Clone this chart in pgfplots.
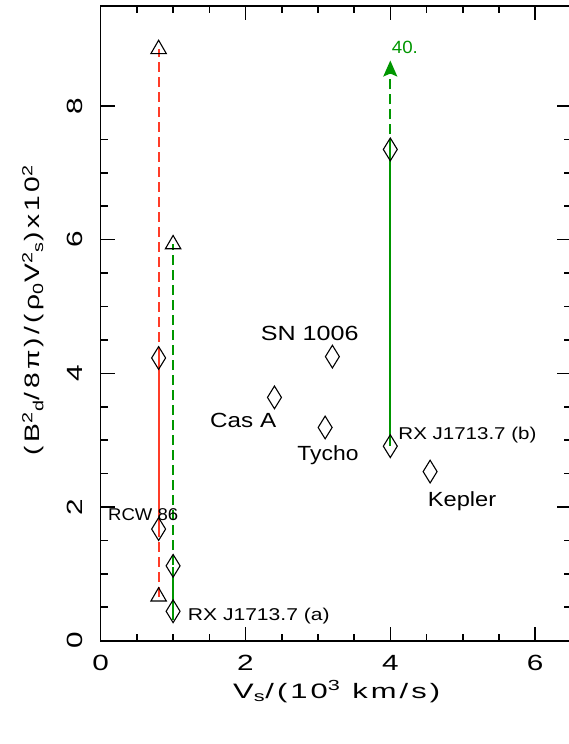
\documentclass[border=0pt]{standalone}
\usepackage{pgfplots}
\pgfplotsset{compat=1.18}
\usepackage{fontspec}
\setmainfont{Liberation Sans}
\usetikzlibrary{arrows.meta}
\definecolor{pgred}{RGB}{255,60,40}
\definecolor{pggreen}{RGB}{0,150,0}
\newcommand{\fs}[1]{\fontsize{#1}{#1}\selectfont}
\begin{document}
\begin{tikzpicture}
\begin{axis}[
  at={(0,0)}, anchor=south west,
  scale only axis, width=470.6bp, height=635bp,
  xmin=0, xmax=6.5, ymin=0, ymax=9.5,
  xtick={0,2,4,6}, ytick={0,2,4,6,8},
  minor x tick num=3, minor y tick num=3,
  tick align=inside,
  major tick length=14bp, minor tick length=7bp,
  axis line style={line width=1.6bp},
  every tick/.style={line width=1.6bp, black},
  /pgf/number format/assume math mode=true,
  xticklabel style={anchor=north, inner sep=0pt, yshift=-14.3bp, font=\fs{22bp}},
  yticklabel style={xshift=-17.7bp, rotate=90, anchor=south, inner sep=0pt, font=\fs{22bp}},
  xticklabel={\scalebox{1.35}[1]{\pgfmathprintnumber{\tick}}},
  yticklabel={\scalebox{1.35}[1]{\pgfmathprintnumber{\tick}}},
  xlabel={\resizebox{207bp}{\height}{\addfontfeatures{LetterSpace=10}V\textsubscript{s}/(10\textsuperscript{3} km/s)}},
  xlabel style={at={(axis description cs:0.5015,-0.09024)}, anchor=base, inner sep=0pt, font=\fs{20.9bp}},
  ylabel={\resizebox{290bp}{\height}{\addfontfeatures{LetterSpace=12}(B\textsuperscript{2}\textsubscript{d}/8π)/(ρ\textsubscript{0}V\textsuperscript{2}\textsubscript{s})x10\textsuperscript{2}}},
  ylabel style={at={(axis description cs:-0.1290,0.5208)}, rotate=0, anchor=base, inner sep=0pt, font=\fs{20.9bp}},
  clip=false,
]
\addplot[pgred, line width=1.8bp, dash pattern=on 10bp off 5bp] coordinates {(0.8,0.66) (0.8,8.85)};
\addplot[pgred, line width=1.8bp] coordinates {(0.8,1.55) (0.8,4.28)};
\addplot[pggreen, line width=1.8bp, dash pattern=on 10bp off 5bp] coordinates {(1,1.13) (1,5.93)};
\addplot[pggreen, line width=1.8bp] coordinates {(1,0.31) (1,1.10)};
\addplot[pggreen, line width=1.8bp] coordinates {(4,2.91) (4,7.35)};
\addplot[pggreen, line width=1.8bp, dash pattern=on 10bp off 5bp, -{Stealth[length=16bp,width=14bp,inset=3bp]}] coordinates {(4,7.35) (4,8.68)};
\addplot[only marks, mark=diamond, mark size=11.35bp, mark options={xscale=0.82, line width=1.1bp, black, solid}] coordinates {
(0.8,1.67) (0.8,4.23) (1.0,0.44) (1.0,1.12) (4.0,2.91) (4.0,7.35)
(3.2,4.25) (2.4,3.64) (3.1,3.19) (4.55,2.53)};
\addplot[only marks, mark=triangle, mark size=8.9bp, mark options={line width=1.1bp, black, solid}] coordinates {
(0.8,8.85) (0.8,0.66) (1.0,5.93)};
\node[anchor=base west, inner sep=0pt, font=\fs{20.5bp}] at (axis cs:2.210,4.488) {\resizebox{97.7bp}{\height}{SN 1006}};
\node[anchor=base west, inner sep=0pt, font=\fs{20.5bp}] at (axis cs:1.510,3.193) {\resizebox{66bp}{\height}{Cas A}};
\node[anchor=base west, inner sep=0pt, font=\fs{20.5bp}] at (axis cs:2.715,2.703) {\resizebox{61bp}{\height}{Tycho}};
\node[anchor=base west, inner sep=0pt, font=\fs{20.5bp}] at (axis cs:4.517,2.005) {\resizebox{68.3bp}{\height}{Kepler}};
\node[anchor=base west, inner sep=0pt, font=\fs{17.1bp}] at (axis cs:4.110,3.003) {\resizebox{138bp}{\height}{RX J1713.7 (b)}};
\node[anchor=base west, inner sep=0pt, font=\fs{17.1bp}] at (axis cs:1.202,0.299) {\resizebox{141.7bp}{\height}{RX J1713.7 (a)}};
\node[anchor=base west, inner sep=0pt, font=\fs{17.1bp}] at (axis cs:0.101,1.795) {\resizebox{70bp}{\height}{RCW 86}};
\node[anchor=base west, inner sep=0pt, font=\fs{17.7bp}, text=pggreen] at (axis cs:4.019,8.788) {\resizebox{26bp}{\height}{40.}};
\end{axis}
\pgfresetboundingbox
\path[use as bounding box] (-100.7bp,-103.3bp) rectangle (468.3bp,640.7bp);
\end{tikzpicture}
\end{document}
